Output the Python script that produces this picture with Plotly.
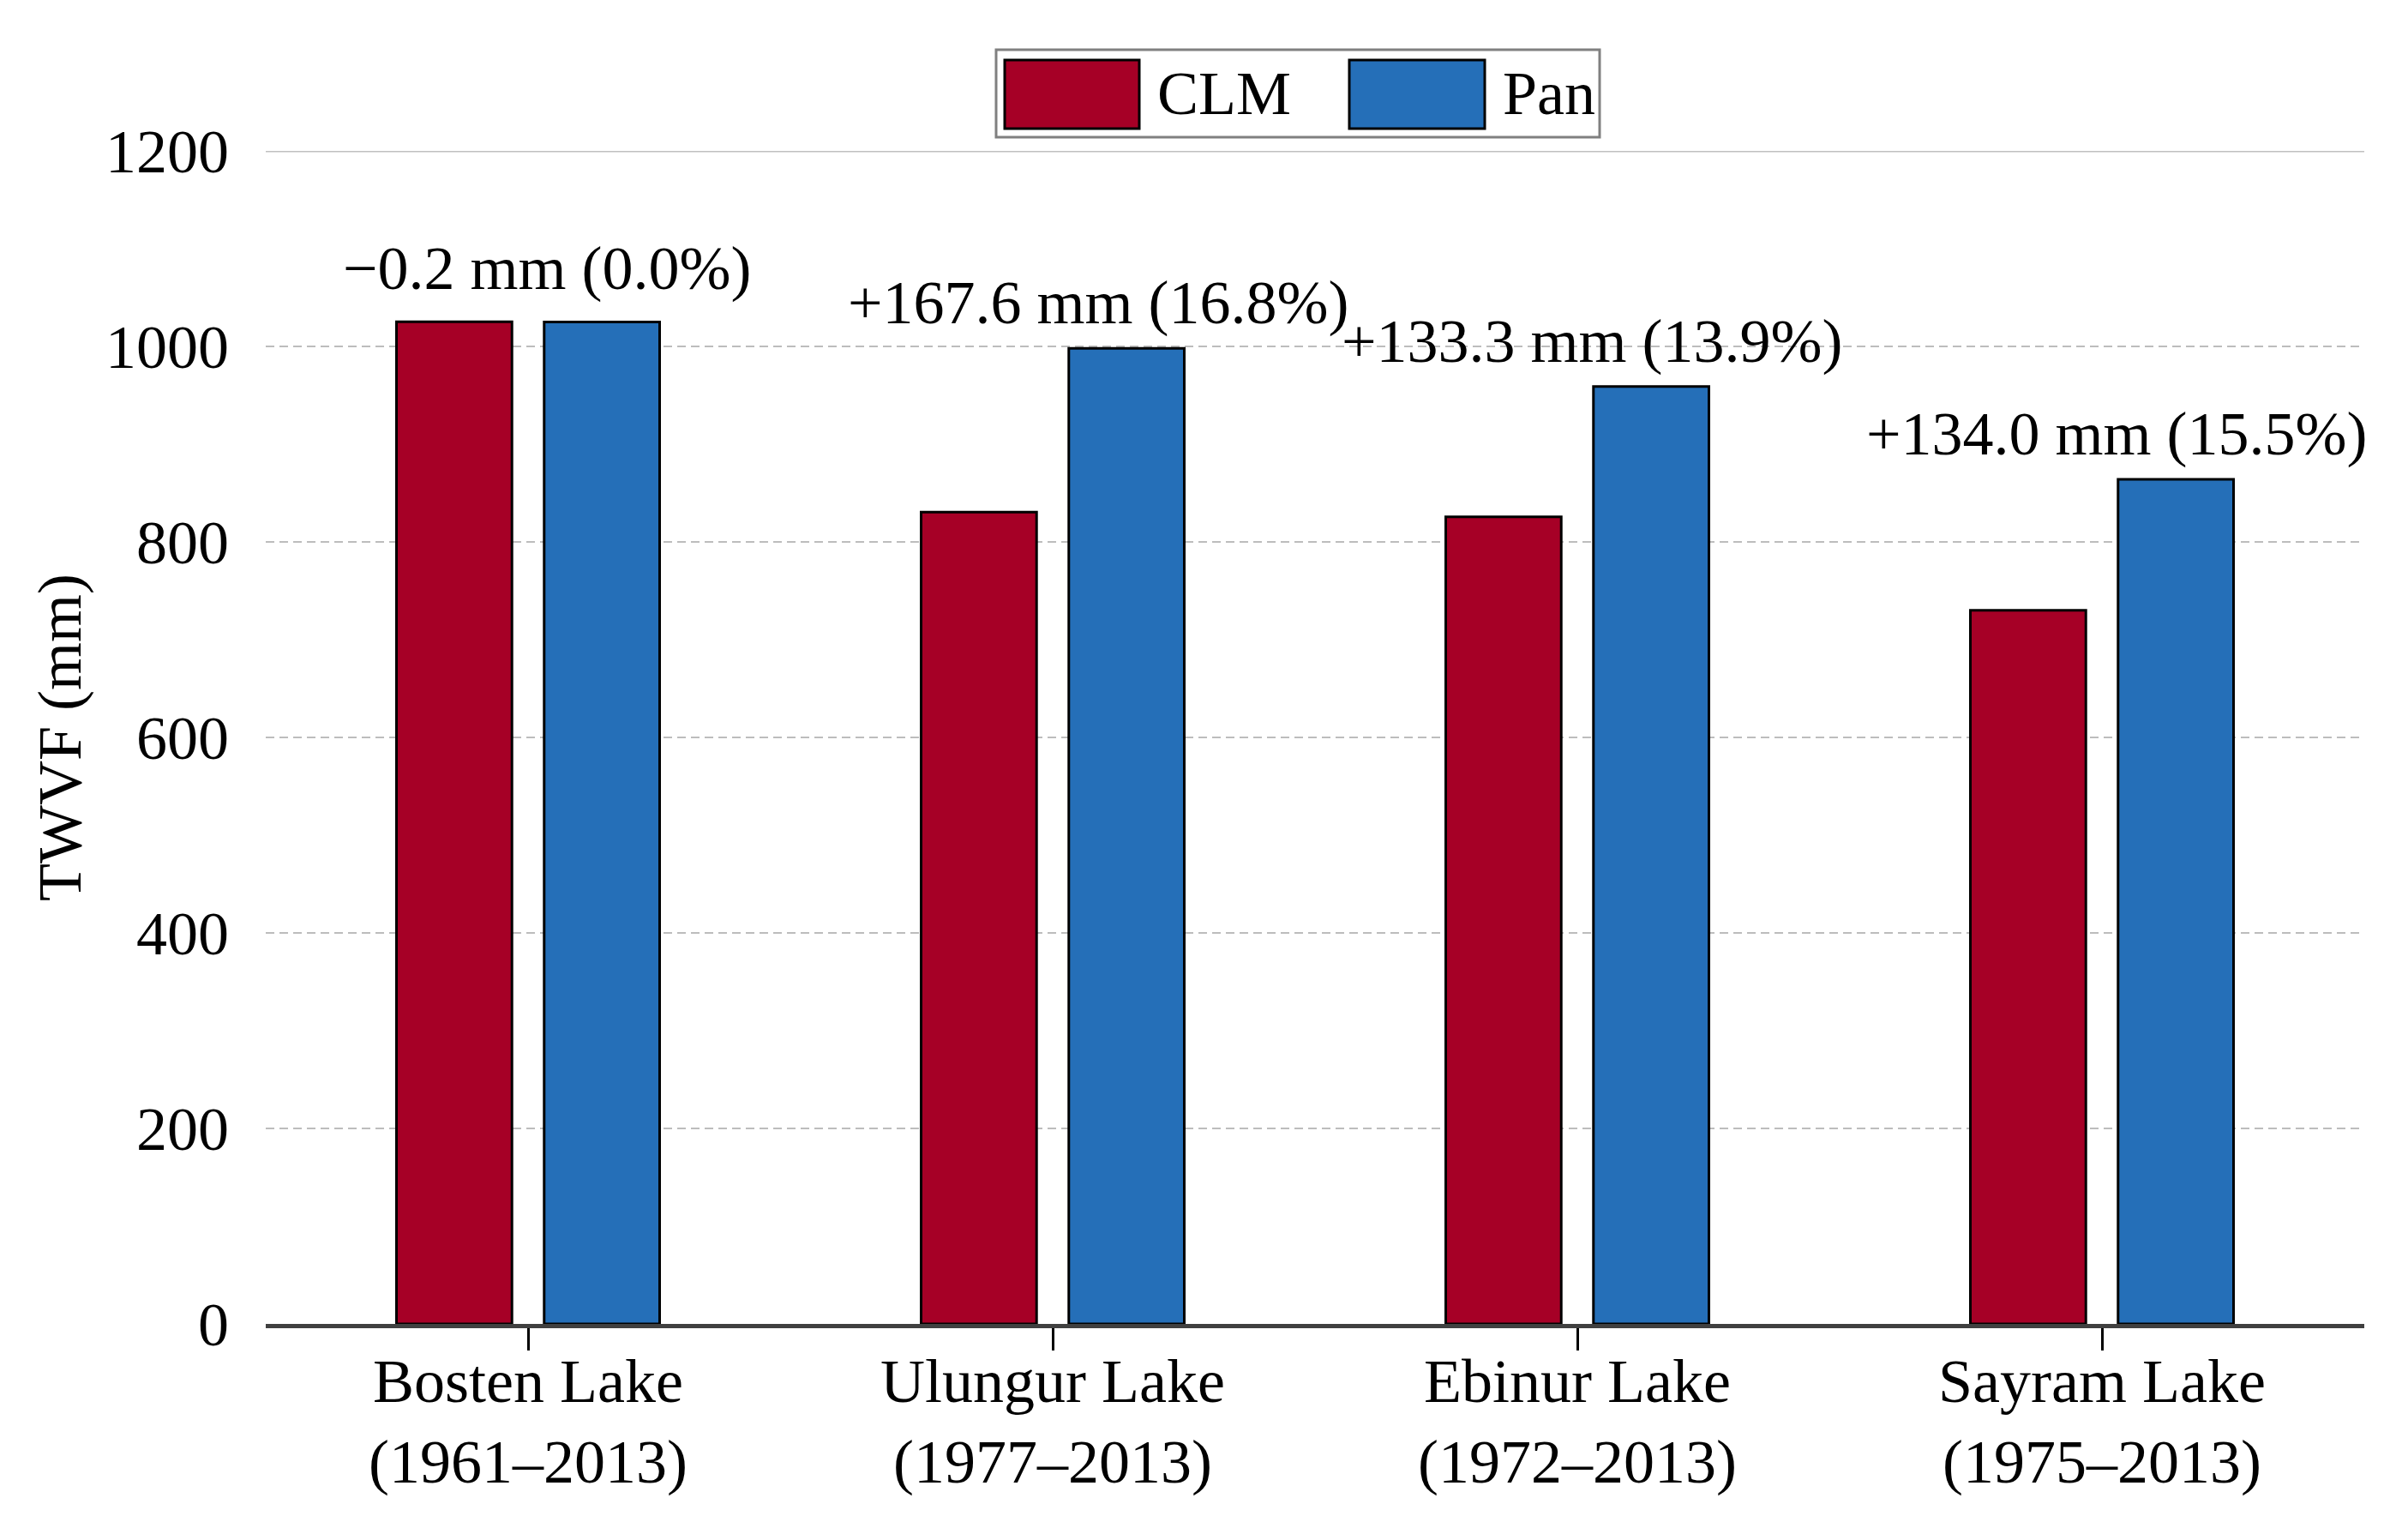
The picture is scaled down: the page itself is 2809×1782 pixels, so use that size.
import plotly.graph_objects as go

# ---------------- data ----------------
lakes = ["Bosten Lake", "Ulungur Lake", "Ebinur Lake", "Sayram Lake"]
periods = ["(1961–2013)", "(1977–2013)", "(1972–2013)", "(1975–2013)"]
series_names = ["CLM", "Pan"]
clm_values = [1025.2, 830.4, 825.7, 730.0]
pan_values = [1025.0, 998.0, 959.0, 864.0]
diff_mm = [-0.2, 167.6, 133.3, 134.0]
diff_pct = [0.0, 16.8, 13.9, 15.5]
y_ticks = [0, 200, 400, 600, 800, 1000, 1200]

# ---------------- style ----------------
W, H = 2809, 1782
L, R, T, B = 302, 59, 168, 246
RED = "#A60026"
BLUE = "#256FB8"
FONT = "Liberation Serif"
FS = 72

categories = [f"{a}<br>{b}" for a, b in zip(lakes, periods)]

fig = go.Figure()
fig.add_bar(x=categories, y=clm_values, name=series_names[0],
            marker=dict(color=RED, line=dict(color="black", width=3)))
fig.add_bar(x=categories, y=pan_values, name=series_names[1],
            marker=dict(color=BLUE, line=dict(color="black", width=3)))

# difference labels
xshifts = [22, 53, 17, 17]
yshifts = [62, 53, 53, 53]
for i, cat in enumerate(categories):
    txt = f"{diff_mm[i]:+.1f} mm ({diff_pct[i]:.1f}%)".replace("-", "−")
    fig.add_annotation(x=cat, y=max(clm_values[i], pan_values[i]), xref="x", yref="y",
                       text=txt, showarrow=False, yanchor="middle", xanchor="center",
                       yshift=yshifts[i], xshift=xshifts[i],
                       font=dict(family=FONT, size=FS, color="black"))

# helper: pixel -> paper
pw = W - L - R
ph = H - T - B
def px(x):
    return (x - L) / pw
def py(y):
    return (H - B - y) / ph

shapes = []
# solid top line at 1200
shapes.append(dict(type="line", xref="paper", yref="y", x0=0, x1=1, y0=1200, y1=1200,
                   line=dict(color="#c0c0c0", width=3)))
# custom legend
shapes.append(dict(type="rect", xref="paper", yref="paper",
                   x0=px(1154), x1=px(1858), y0=py(152), y1=py(50),
                   line=dict(color="#808080", width=3), fillcolor="white", layer="above"))
shapes.append(dict(type="rect", xref="paper", yref="paper",
                   x0=px(1164), x1=px(1321), y0=py(142), y1=py(62),
                   line=dict(color="black", width=3), fillcolor=RED, layer="above"))
shapes.append(dict(type="rect", xref="paper", yref="paper",
                   x0=px(1566), x1=px(1724), y0=py(142), y1=py(62),
                   line=dict(color="black", width=3), fillcolor=BLUE, layer="above"))
for name, xl in zip(series_names, [1340, 1743]):
    fig.add_annotation(x=px(xl), y=py(101), xref="paper", yref="paper", text=name,
                       showarrow=False, xanchor="left", yanchor="middle",
                       font=dict(family=FONT, size=FS, color="black"))

fig.update_layout(
    width=W, height=H,
    margin=dict(l=L, r=R, t=T, b=B, pad=0),
    paper_bgcolor="white", plot_bgcolor="white",
    barmode="group", bargap=0.437, bargroupgap=0.218,
    showlegend=False,
    font=dict(family=FONT, size=FS, color="black"),
    shapes=shapes,
    xaxis=dict(type="category", range=[-0.5, 3.5], showline=True, linecolor="#404040",
               linewidth=5, ticks="outside", ticklen=26, tickwidth=3, tickcolor="black",
               ticklabelstandoff=-26,
               showgrid=False, tickfont=dict(family=FONT, size=FS, color="black")),
    yaxis=dict(range=[0, 1200], tickvals=y_ticks, showgrid=True, gridcolor="#bdbdbd",
               gridwidth=2, griddash="10px,6px", zeroline=False, showline=False, ticks="",
               ticklabelstandoff=42, tickfont=dict(family=FONT, size=FS, color="black"),
               title=dict(text="TWVF (mm)", standoff=4,
                          font=dict(family=FONT, size=FS, color="black"))),
)

fig.write_html("out.html")
